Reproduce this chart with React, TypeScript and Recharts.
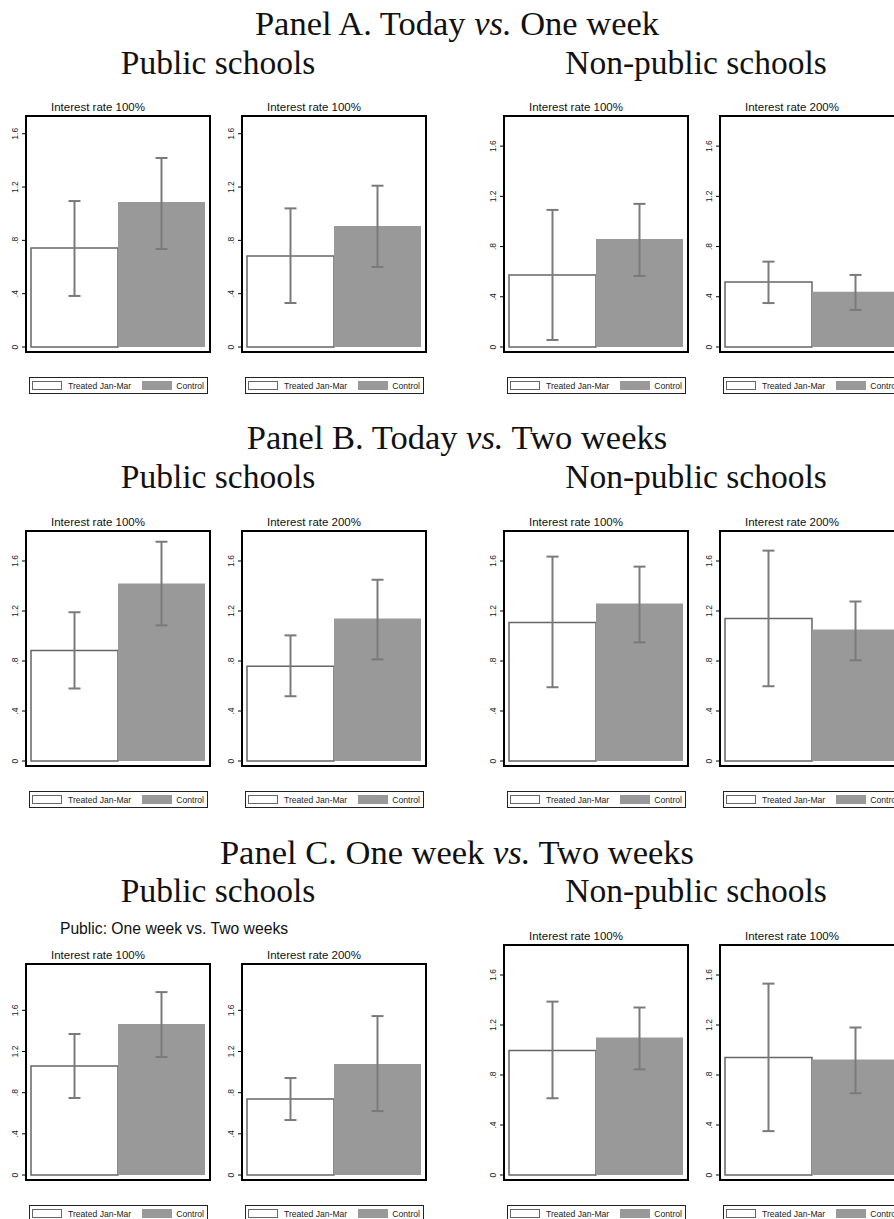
import { BarChart, Bar, XAxis, YAxis, ErrorBar, ReferenceArea } from "recharts";

const SANS = "'Liberation Sans', Arial, sans-serif";
const SERIF = "'Liberation Serif', 'Times New Roman', serif";

// ---- data: 3 panels x 4 small charts, read left to right ----
const panelTitles = [
  ["Panel A. Today ", "vs.", " One week"],
  ["Panel B. Today ", "vs.", " Two weeks"],
  ["Panel C. One week ", "vs.", " Two weeks"],
];
const groupTitles = ["Public schools", "Non-public schools"];
const extraTitle = "Public: One week vs. Two weeks";

const rateTitles = [
  "Interest rate 100%", "Interest rate 100%", "Interest rate 100%", "Interest rate 200%",
  "Interest rate 100%", "Interest rate 200%", "Interest rate 100%", "Interest rate 200%",
  "Interest rate 100%", "Interest rate 200%", "Interest rate 100%", "Interest rate 100%",
];
const treatedMean = [0.742, 0.683, 0.574, 0.518, 0.885, 0.758, 1.108, 1.14, 1.058, 0.738, 0.997, 0.941];
const treatedLow = [0.383, 0.33, 0.056, 0.35, 0.58, 0.518, 0.59, 0.598, 0.748, 0.534, 0.614, 0.351];
const treatedHigh = [1.095, 1.04, 1.092, 0.68, 1.19, 1.005, 1.635, 1.683, 1.37, 0.942, 1.387, 1.531];
const controlMean = [1.087, 0.908, 0.861, 0.44, 1.42, 1.14, 1.26, 1.053, 1.466, 1.078, 1.1, 0.925];
const controlLow = [0.735, 0.6, 0.566, 0.295, 1.085, 0.813, 0.949, 0.805, 1.146, 0.621, 0.845, 0.654];
const controlHigh = [1.418, 1.21, 1.14, 0.574, 1.754, 1.45, 1.555, 1.276, 1.777, 1.544, 1.34, 1.18];
const legendLabels = ["Treated Jan-Mar", "Control"];
const yTicks = [0, 0.4, 0.8, 1.2, 1.6];
// upper end of each chart's y range
const yMax = [1.733, 1.733, 1.84, 1.84, 1.84, 1.84, 1.84, 1.84, 2.05, 2.05, 1.84, 1.84];

// ---- layout ----
const COL_X = [26, 242, 504, 720];
const FRAME_W = 184;
const frameTop = (i: number) => {
  const row = Math.floor(i / 4);
  if (row === 0) return 116;
  if (row === 1) return 531;
  return i % 4 < 2 ? 964 : 945;
};
const FRAME_BOTTOM = [352, 766, 1180];
const TITLE_Y = [35, 449, 864];
const GROUP_Y = [74, 488, 902];
const GROUP_X = [218, 696];

const WHITE_EDGE = "#666";
const GRAY = "#999";
const CI_COLOR = "#7a7a7a";

const fmtTick = (v: number) => (v === 0 ? "0" : v < 1 ? String(v).replace(/^0/, "") : String(v));

function VTick(props: any) {
  const { x, y, payload } = props;
  const lx = x - 2;
  return (
    <text
      x={lx}
      y={y}
      transform={`rotate(-90 ${lx} ${y})`}
      textAnchor="middle"
      fontSize={8.5}
      fontFamily={SANS}
      fill="#222"
    >
      {fmtTick(payload.value)}
    </text>
  );
}

function SmallChart({ i }: { i: number }) {
  const col = i % 4;
  const row = Math.floor(i / 4);
  const top = frameTop(i);
  const h = FRAME_BOTTOM[row] - top;
  const max = yMax[i];
  const min = -(5 / (h - 5)) * max;
  const data = [
    {
      name: "g",
      treated: treatedMean[i],
      control: controlMean[i],
      treatedErr: [treatedMean[i] - treatedLow[i], treatedHigh[i] - treatedMean[i]],
      controlErr: [controlMean[i] - controlLow[i], controlHigh[i] - controlMean[i]],
    },
  ];
  return (
    <div style={{ position: "absolute", left: COL_X[col] - 26, top: top - 2 }}>
      <BarChart
        width={26 + FRAME_W + 2}
        height={h + 4}
        data={data}
        margin={{ top: 2, right: 2, bottom: 2, left: 0 }}
        barCategoryGap={5}
        barGap={0}
      >
        <XAxis dataKey="name" hide />
        <YAxis
          domain={[min, max]}
          ticks={yTicks}
          interval={0}
          width={26}
          tickSize={4}
          tickLine={{ stroke: "#000" }}
          axisLine={false}
          tick={<VTick />}
        />
        <Bar dataKey="treated" fill="#fff" stroke={WHITE_EDGE} strokeWidth={1.5} isAnimationActive={false}>
          <ErrorBar dataKey="treatedErr" width={6} stroke={CI_COLOR} strokeWidth={2} />
        </Bar>
        <Bar dataKey="control" fill={GRAY} isAnimationActive={false}>
          <ErrorBar dataKey="controlErr" width={6} stroke={CI_COLOR} strokeWidth={2} />
        </Bar>
        {/* plot region border */}
        <ReferenceArea y1={min} y2={max} fill="none" fillOpacity={0} stroke="#000" strokeWidth={2} ifOverflow="visible" />
      </BarChart>
    </div>
  );
}

function LegendBox({ left, top }: { left: number; top: number }) {
  return (
    <g fontFamily={SANS} fontSize={8.6} fill="#222">
      <rect x={left + 3.5} y={top + 0.5} width={178} height={16} fill="#fff" stroke="#222" />
      <rect x={left + 6.5} y={top + 4.5} width={29} height={8} fill="#fff" stroke={WHITE_EDGE} />
      <text x={left + 42} y={top + 11.5}>{legendLabels[0]}</text>
      <rect x={left + 116} y={top + 4} width={30} height={9} fill={GRAY} />
      <text x={left + 178} y={top + 11.5} textAnchor="end">{legendLabels[1]}</text>
    </g>
  );
}

export default function App() {
  const idx = Array.from({ length: 12 }, (_, i) => i);
  return (
    <div
      style={{
        position: "absolute",
        left: 0,
        top: 0,
        width: 894,
        height: 1219,
        overflow: "hidden",
        background: "#fff",
      }}
    >
      {idx.map((i) => (
        <SmallChart key={i} i={i} />
      ))}
      <svg
        width={894}
        height={1219}
        style={{ position: "absolute", left: 0, top: 0, pointerEvents: "none" }}
      >
        {panelTitles.map((t, r) => (
          <g key={`p${r}`}>
            <text x={457} y={TITLE_Y[r]} textAnchor="middle" fontFamily={SERIF} fontSize={34.5} fill="#111">
              {t[0]}
              <tspan fontStyle="italic">{t[1]}</tspan>
              {t[2]}
            </text>
            {groupTitles.map((g, k) => (
              <text key={g} x={GROUP_X[k]} y={GROUP_Y[r]} textAnchor="middle" fontFamily={SERIF} fontSize={33.5} fill="#111">
                {g}
              </text>
            ))}
          </g>
        ))}
        <text x={174} y={934} textAnchor="middle" fontFamily={SANS} fontSize={15.7} fill="#111">
          {extraTitle}
        </text>
        {idx.map((i) => {
          const col = i % 4;
          const row = Math.floor(i / 4);
          const left = COL_X[col];
          return (
            <g key={`t${i}`}>
              <text x={left + 72} y={frameTop(i) - 5.5} textAnchor="middle" fontFamily={SANS} fontSize={11.5} fill="#111">
                {rateTitles[i]}
              </text>
              <LegendBox left={left} top={FRAME_BOTTOM[row] + 25} />
            </g>
          );
        })}
      </svg>
    </div>
  );
}
